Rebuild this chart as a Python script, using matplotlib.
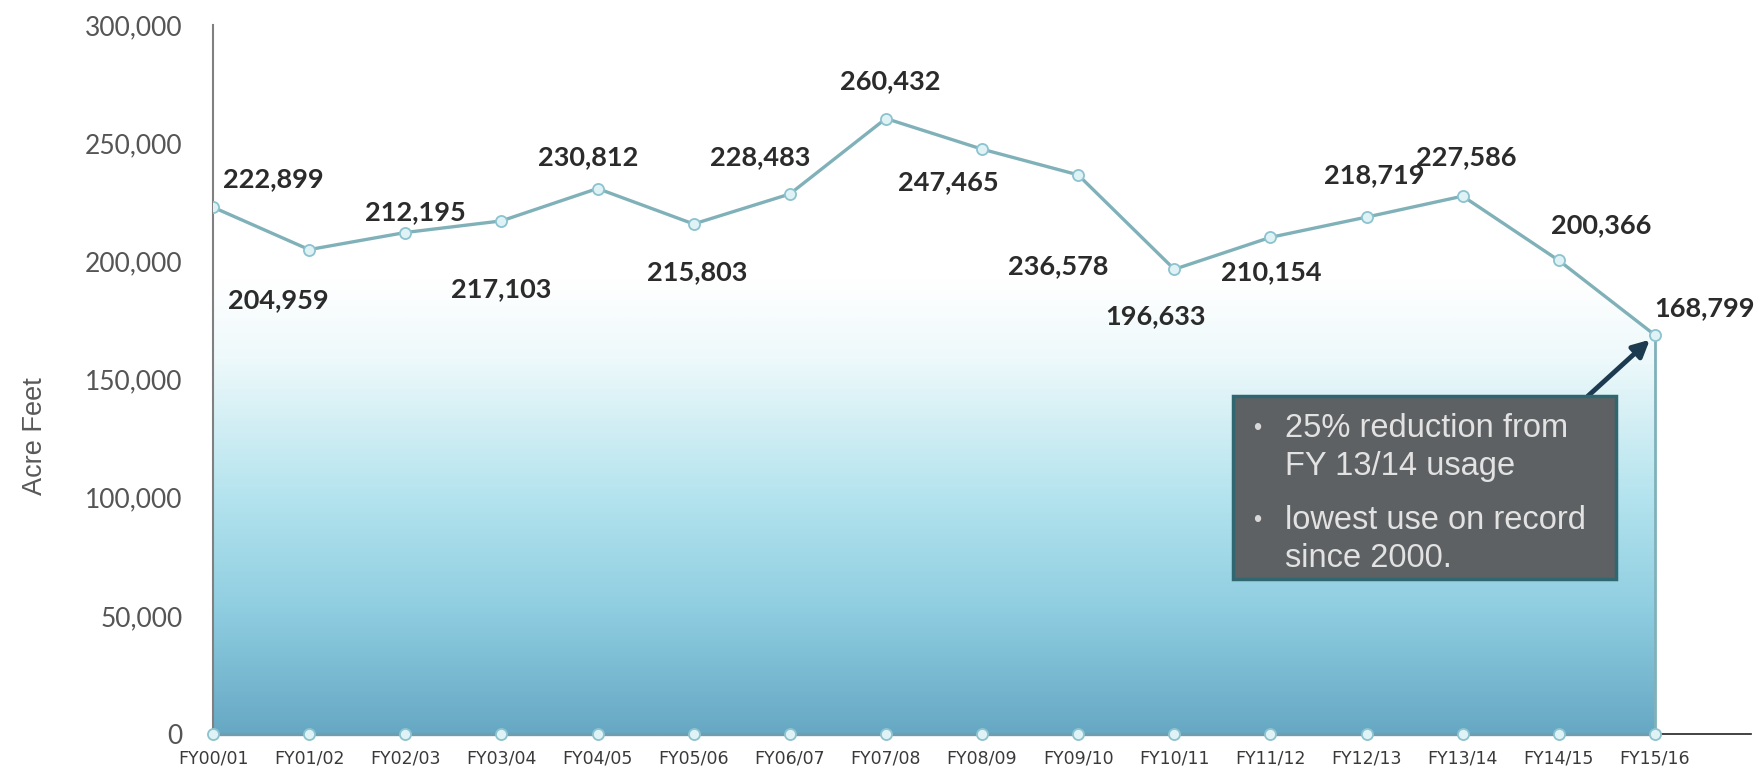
import numpy as np
import matplotlib.pyplot as plt
from matplotlib.colors import LinearSegmentedColormap
from matplotlib.patches import Rectangle

# Data
years = ['FY00/01', 'FY01/02', 'FY02/03', 'FY03/04', 'FY04/05', 'FY05/06', 'FY06/07', 'FY07/08',
         'FY08/09', 'FY09/10', 'FY10/11', 'FY11/12', 'FY12/13', 'FY13/14', 'FY14/15', 'FY15/16']
usage = [222899, 204959, 212195, 217103, 230812, 215803, 228483, 260432,
         247465, 236578, 196633, 210154, 218719, 227586, 200366, 168799]
baseline = [0] * len(years)
yticks = [0, 50000, 100000, 150000, 200000, 250000, 300000]
notes = ['25% reduction from\nFY 13/14 usage', 'lowest use on record\nsince 2000.']

# label offsets (points), picked by eye
lab_dx = [54, -27, 9, 0, -8, 3, -26, 4, -30, -18, -17, 1, 7, 3, 38, 44]
lab_dy = [25, -45, 18, -61, 28, -43, 33, 33, -29, -81, -42, -31, 37, 35, 31, 24]

W, H = 1763, 774
fig = plt.figure(figsize=(W / 100, H / 100), dpi=100)
ax = fig.add_axes([213 / W, 1 - 734 / H, 16 * 96.13 / W, (734 - 25) / H])

x = np.arange(len(years))
line_col = '#80b1b9'

# gradient area under the line
cmap = LinearSegmentedColormap.from_list('water', [
    (0.0, '#67a8c4'), (0.17, '#8ecde0'), (0.33, '#b3e3ee'),
    (0.45, '#d6f0f5'), (0.53, '#eef9fb'), (0.64, '#ffffff'), (1.0, '#ffffff')])
grad = np.linspace(0, 1, 400).reshape(-1, 1)
im = ax.imshow(grad, extent=[0, len(years) - 1, 0, 300000], origin='lower',
               aspect='auto', cmap=cmap, zorder=1)
poly = ax.fill_between(x, usage, 0, facecolor='none', edgecolor='none', zorder=1)
im.set_clip_path(poly.get_paths()[0], transform=ax.transData)
ax.plot([x[-1], x[-1]], [0, usage[-1]], color=line_col, lw=2, zorder=2)

ax.plot(x, usage, color=line_col, lw=2.4, marker='o', ms=8,
        mfc='#dff2f5', mec='#8cc3cf', mew=1.3, zorder=4)
ax.plot(x, baseline, color='#6e9fb0', lw=2.4, marker='o', ms=8,
        mfc='#dff2f5', mec='#8cc3cf', mew=1.3, zorder=4, clip_on=False)

for i, v in enumerate(usage):
    ax.annotate(f'{v:,}', (i, v), xytext=(lab_dx[i] * 0.81, lab_dy[i] * 0.81),
                textcoords='offset points', ha='center', va='center',
                fontsize=19.5, fontweight='bold', color='#2b2b2b', family='Lato', zorder=5)

ax.set_xlim(0, 16)
ax.set_ylim(0, 300000)
ax.set_yticks(yticks)
ax.set_yticklabels([f'{t:,}' for t in yticks], fontsize=19, color='#555555', family='Lato')
ax.set_xticks(x)
ax.set_xticklabels(years, fontsize=12.5, color='#3a3a3a',
                   family=['Liberation Sans Narrow', 'DejaVu Sans'])
ax.tick_params(axis='both', length=0)
ax.tick_params(axis='y', pad=22)
ax.tick_params(axis='x', pad=11)
for s in ['top', 'right']:
    ax.spines[s].set_visible(False)
ax.spines['left'].set_color('#808080')
ax.spines['left'].set_linewidth(1.5)
ax.spines['bottom'].set_color('#222222')
ax.spines['bottom'].set_linewidth(1.2)
ax.set_ylabel('Acre Feet', fontsize=19.5, color='#595959', family='Liberation Sans')
ax.yaxis.set_label_coords(-0.107, 0.42)

# note box
fig.patches.append(Rectangle((1233 / W, 1 - 579 / H), 383 / W, 183 / H,
                             transform=fig.transFigure, facecolor='#5d6163',
                             edgecolor='#2f6670', lw=2.5, zorder=6))
for k, note in enumerate(notes):
    ytop = [429, 521][k]
    fig.text(1257 / W, 1 - ytop / H, '•', color='#d8d8d8', fontsize=17,
             va='center', ha='center', family='Liberation Sans', zorder=7)
    fig.text(1285 / W, 1 - (ytop - 16) / H, note, color='#e2e2e2', fontsize=23.5,
             va='top', ha='left', family='Liberation Sans', linespacing=1.3, zorder=7)

ax.annotate('', xy=(x[-1], usage[-1]), xytext=(1588, H - 396), textcoords='figure pixels',
            arrowprops=dict(arrowstyle='-|>', color='#1d3b50', lw=3.5,
                            mutation_scale=25, shrinkA=0, shrinkB=5), zorder=8)

fig.savefig('out.png', dpi=100)
